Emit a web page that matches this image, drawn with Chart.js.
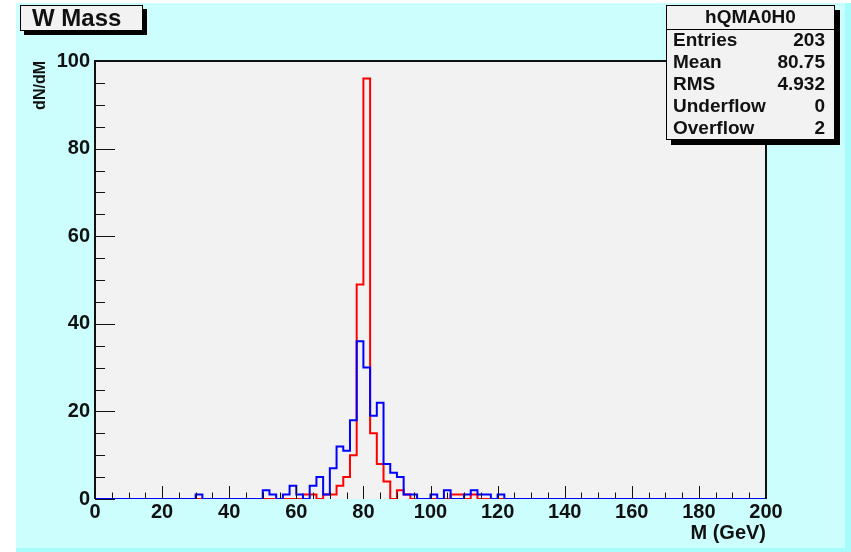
<!DOCTYPE html>
<html>
<head>
<meta charset="utf-8">
<script src="https://cdn.jsdelivr.net/npm/chart.js@4.4.0/dist/chart.umd.min.js"></script>
<style>
  html, body { margin: 0; padding: 0; background: #fff; }
  canvas { display: block; }
</style>
</head>
<body>
<canvas id="chart" width="851" height="552"></canvas>
<script>
// histogram binning (GeV)
const X_MIN = 0;
const X_MAX = 200;
const BIN_WIDTH = 2;

// red histogram: low edge of each non-empty bin and its count
const redBins = [62, 64, 68, 70, 72, 74, 76, 78, 80, 82, 84, 86, 90, 92, 106, 108, 112];
const redCounts = [1, 1, 1, 1, 3, 5, 10, 49, 96, 15, 8, 4, 2, 1, 1, 1, 1];

// blue histogram
const blueBins = [30, 50, 52, 56, 58, 60, 64, 66, 68, 70, 72, 74, 76, 78, 80, 82, 84, 86, 88, 90, 92, 94, 100, 104, 110, 112, 114, 116, 120];
const blueCounts = [1, 2, 1, 1, 3, 1, 3, 5, 1, 7, 12, 11, 18, 36, 30, 19, 22, 8, 6, 5, 1, 1, 1, 2, 1, 2, 1, 1, 1];

const xTicks = [0, 20, 40, 60, 80, 100, 120, 140, 160, 180, 200];
const yTicks = [0, 20, 40, 60, 80, 100];

const histTitle = 'W Mass';
const statsName = 'hQMA0H0';
const statsLabels = ['Entries', 'Mean', 'RMS', 'Underflow', 'Overflow'];
const statsValues = ['203', '80.75', '4.932', '0', '2'];

const FONT = '"Liberation Sans", Arial, Helvetica, sans-serif';

function histPoints(bins, counts) {
  const pts = [];
  for (let e = X_MIN; e < X_MAX; e += BIN_WIDTH) {
    const i = bins.indexOf(e);
    pts.push({ x: e, y: i >= 0 ? counts[i] : 0 });
  }
  pts.push({ x: X_MAX, y: 0 });
  return pts;
}

const rootFrame = {
  id: 'rootFrame',
  beforeDraw(chart) {
    const { ctx, chartArea: a } = chart;
    ctx.save();
    ctx.fillStyle = '#ffffff';
    ctx.fillRect(0, 0, 851, 552);
    ctx.fillStyle = '#ccfefe';
    ctx.fillRect(16, 3, 835, 549);
    ctx.fillStyle = '#a6fbfb';
    ctx.fillRect(845, 3, 6, 549);
    ctx.fillRect(16, 548, 835, 4);
    ctx.fillStyle = '#f2f2f2';
    ctx.fillRect(a.left, a.top, a.right - a.left, a.bottom - a.top);
    ctx.restore();
  },
  afterDatasetsDraw(chart) {
    const { ctx, chartArea: a } = chart;
    const xs = chart.scales.x, ys = chart.scales.y;
    ctx.save();
    ctx.strokeStyle = '#111';
    ctx.lineWidth = 1;
    // x ticks every 5 GeV, inside the frame
    for (let v = X_MIN; v <= X_MAX; v += 5) {
      const px = Math.round(xs.getPixelForValue(v)) + 0.5;
      const len = v % 20 === 0 ? 13 : 6.5;
      ctx.beginPath();
      ctx.moveTo(px, a.bottom);
      ctx.lineTo(px, a.bottom - len);
      ctx.stroke();
    }
    // y ticks every 5 units
    for (let v = 0; v <= 100; v += 5) {
      const py = Math.round(ys.getPixelForValue(v)) + 0.5;
      const len = v % 20 === 0 ? 20 : 10;
      ctx.beginPath();
      ctx.moveTo(a.left, py);
      ctx.lineTo(a.left + len, py);
      ctx.stroke();
    }
    // frame
    ctx.lineWidth = 2;
    ctx.beginPath();
    ctx.moveTo(a.left, a.bottom);
    ctx.lineTo(a.left, a.top);
    ctx.lineTo(a.right, a.top);
    ctx.lineTo(a.right, a.bottom);
    ctx.stroke();
    ctx.restore();
  },
  afterDraw(chart) {
    const ctx = chart.ctx;
    ctx.save();
    // title box
    ctx.fillStyle = '#000';
    ctx.fillRect(24, 9, 123, 26);
    ctx.fillStyle = '#f2f2f2';
    ctx.fillRect(20, 5, 123, 26);
    ctx.strokeStyle = '#000';
    ctx.lineWidth = 1;
    ctx.strokeRect(20.5, 5.5, 122, 25);
    ctx.fillStyle = '#111';
    ctx.font = 'bold 24px ' + FONT;
    ctx.textBaseline = 'middle';
    ctx.textAlign = 'left';
    ctx.fillText(histTitle, 32, 19);

    // stats box
    const bx = 666, by = 5, bw = 169, bh = 135;
    ctx.fillStyle = '#000';
    ctx.fillRect(bx + 5, by + 5, bw, bh);
    ctx.fillStyle = '#f2f2f2';
    ctx.fillRect(bx, by, bw, bh);
    ctx.strokeRect(bx + 0.5, by + 0.5, bw - 1, bh - 1);
    ctx.beginPath();
    ctx.moveTo(bx, 29.5);
    ctx.lineTo(bx + bw, 29.5);
    ctx.stroke();
    ctx.fillStyle = '#111';
    ctx.font = 'bold 19px ' + FONT;
    ctx.textAlign = 'center';
    ctx.fillText(statsName, bx + bw / 2, 18);
    statsLabels.forEach((lab, i) => {
      const y = 41 + i * 22;
      ctx.textAlign = 'left';
      ctx.fillText(lab, bx + 7, y);
      ctx.textAlign = 'right';
      ctx.fillText(statsValues[i], bx + bw - 10, y);
    });
    ctx.restore();
  }
};

const tickFont = { family: FONT, size: 20, weight: 'bold' };

new Chart(document.getElementById('chart'), {
  type: 'line',
  data: {
    datasets: [
      {
        label: 'blue',
        data: histPoints(blueBins, blueCounts),
        borderColor: '#0000ff',
        borderWidth: 2,
        stepped: 'before',
        pointRadius: 0,
        fill: false
      },
      {
        label: 'red',
        data: histPoints(redBins, redCounts),
        borderColor: '#ff0000',
        borderWidth: 2,
        stepped: 'before',
        pointRadius: 0,
        fill: false
      }
    ]
  },
  options: {
    responsive: false,
    animation: false,
    layout: { padding: { top: 61, right: 85, left: 0, bottom: 0 } },
    plugins: { legend: { display: false }, tooltip: { enabled: false } },
    scales: {
      x: {
        type: 'linear',
        min: X_MIN,
        max: X_MAX,
        afterBuildTicks: s => { s.ticks = xTicks.map(v => ({ value: v })); },
        afterFit: s => { s.height = 53; },
        grid: { display: false, drawTicks: false },
        border: { display: false },
        ticks: { font: tickFont, color: '#111', padding: 1, maxRotation: 0, autoSkip: false },
        title: {
          display: true,
          text: 'M (GeV)',
          align: 'end',
          color: '#111',
          font: { family: FONT, size: 20, weight: 'bold' },
          padding: { top: 0, bottom: 7 }
        }
      },
      y: {
        min: 0,
        max: 100,
        afterBuildTicks: s => { s.ticks = yTicks.map(v => ({ value: v })); },
        afterFit: s => { s.width = 95; },
        grid: { display: false, drawTicks: false },
        border: { display: false },
        ticks: { font: tickFont, color: '#111', padding: 5 },
        title: {
          display: true,
          text: 'dN/dM',
          align: 'end',
          color: '#111',
          font: { family: FONT, size: 16, weight: 'bold' },
          padding: { top: 31, bottom: 0 }
        }
      }
    }
  },
  plugins: [rootFrame]
});
</script>
</body>
</html>
